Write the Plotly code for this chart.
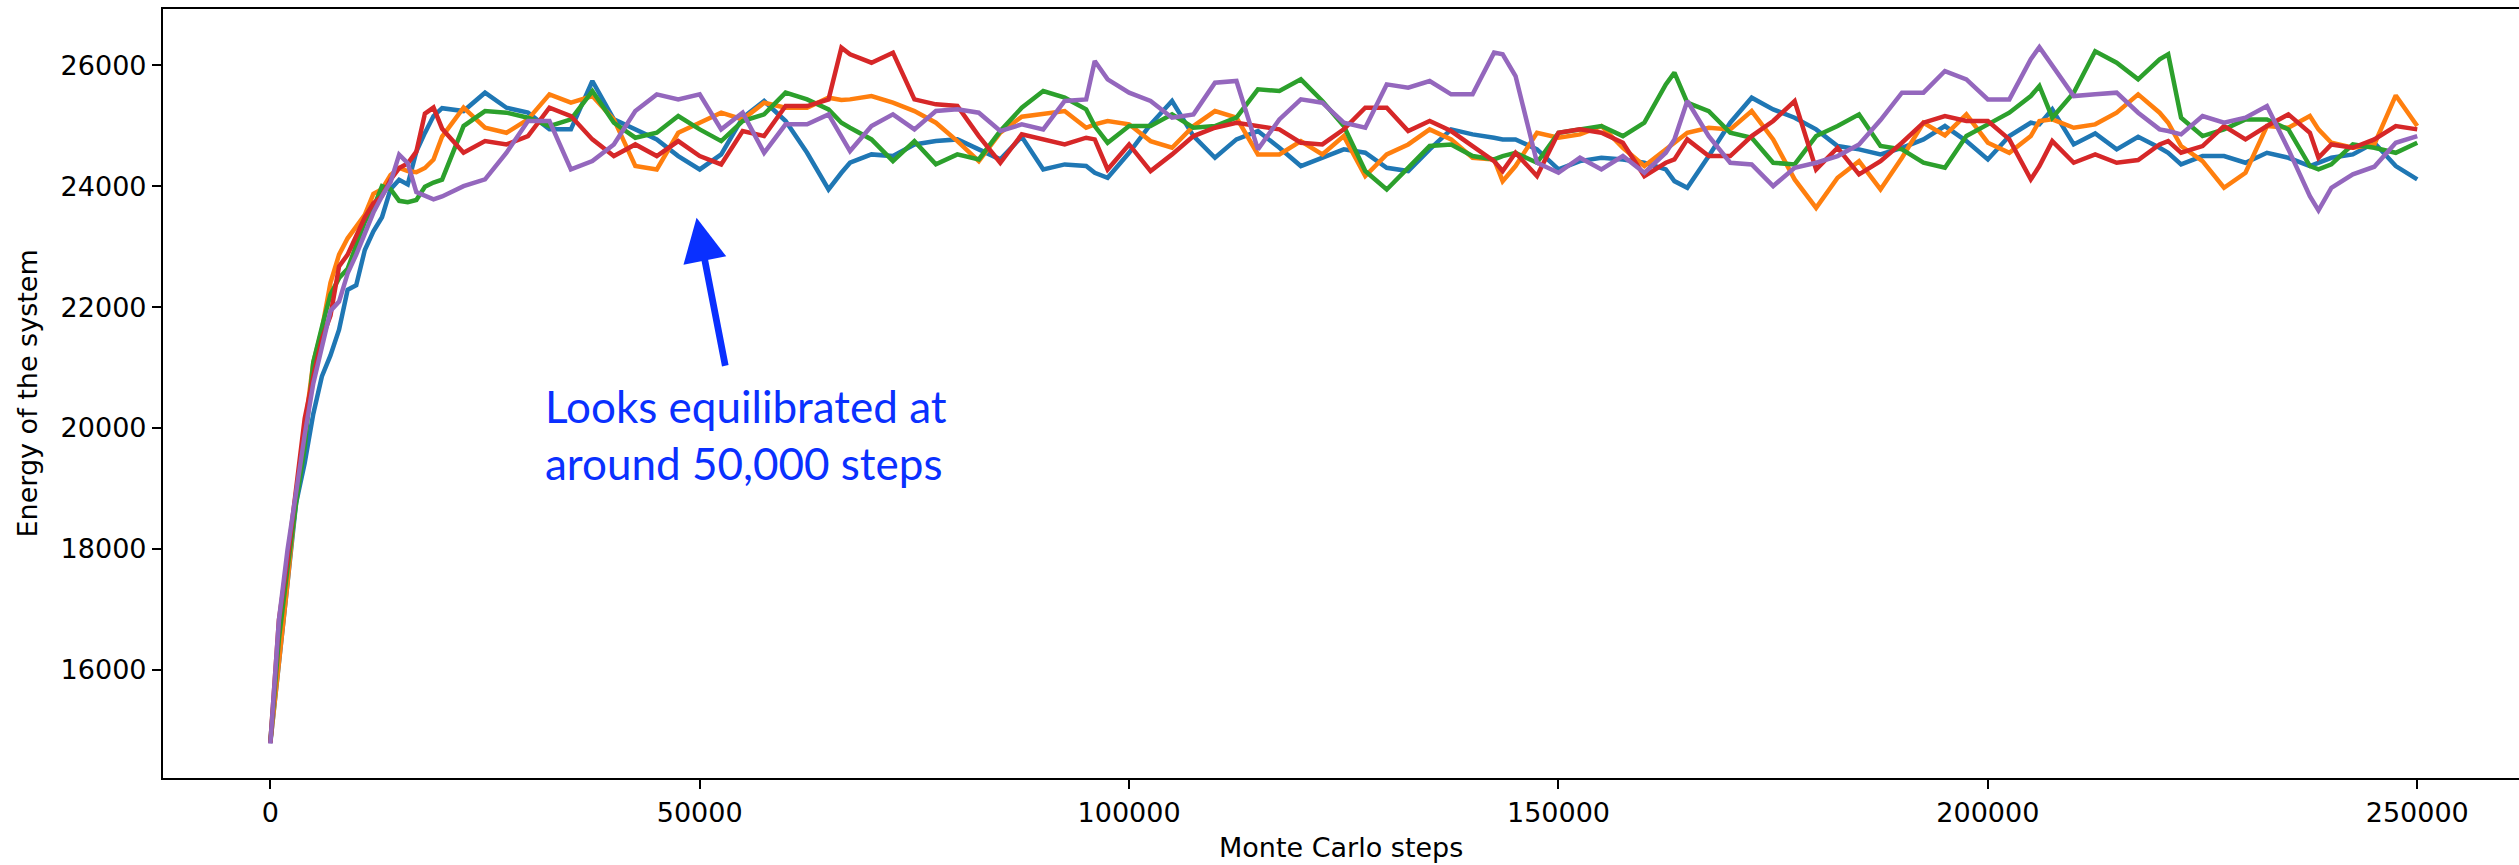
import plotly.graph_objects as go

steps = [0, 1000, 2000, 3000, 4000, 5000, 6000, 7000, 8000, 9000, 10000, 11000, 12000, 13000, 14000,
         15000, 16000, 17000, 18000, 19000, 20000,
         22500, 25000, 27500, 30000, 32500, 35000, 37500, 40000, 42500,
         45000, 47500, 50000, 52500, 55000, 57500, 60000, 62500, 65000, 66500, 67500, 70000, 72500, 75000,
         77500, 80000, 82500, 85000,
         87500, 90000, 92500, 95000, 96000, 97500, 100000, 102500, 105000, 107500, 110000, 112500, 115000,
         117500, 120000, 122500, 125000, 127500,
         130000, 132500, 135000, 137500, 140000, 142500, 143500, 145000, 147500, 150000, 152500, 155000,
         157500, 160000, 162500, 163500, 165000, 167500,
         170000, 172500, 175000, 177500, 180000, 182500, 185000, 187500, 190000, 192500, 195000, 197500,
         200000, 202500, 205000, 206000, 207500, 210000,
         212500, 215000, 217500, 220000, 221000, 222500, 225000, 227500, 230000, 232500, 235000, 237500,
         238500, 240000, 242500, 245000, 247500, 250000]

energy_blue = [14790, 16127, 17521, 18760, 19420, 20232, 20852, 21200, 21627, 22285, 22362, 22943, 23253, 23486, 23950,
               24105, 24028, 24570, 24880, 25160, 25290,
               25242, 25546, 25297, 25215, 24939, 24939, 25739, 25104, 24939,
               24773, 24497, 24276, 24525, 25132, 25408, 25077, 24552, 23945, 24221, 24387, 24525, 24497, 24690,
               24745, 24773, 24608, 24442,
               24817, 24276, 24359, 24332, 24221, 24138, 24552, 25022, 25408, 24828, 24469, 24773, 24911,
               24635, 24332, 24469, 24608, 24552,
               24304, 24249, 24608, 24939, 24856, 24801, 24773, 24773, 24608, 24276, 24414, 24469,
               24442, 24387, 24276, 24083, 23973, 24497,
               25049, 25463, 25270, 25132, 24939, 24663, 24608, 24525, 24635, 24773, 24994, 24745,
               24442, 24828, 25049, 25022, 25270, 24690,
               24872, 24608, 24817, 24635, 24552, 24359, 24497, 24497, 24387, 24552, 24469, 24332,
               24387, 24469, 24525, 24718, 24332, 24111]

energy_orange = [14800, 16049, 17444, 18877, 20000, 21084, 21626, 22401, 22866, 23137, 23331, 23526, 23873, 23950, 24183,
                 24300, 24250, 24230, 24300, 24440, 24820,
                 25297, 24966, 24883, 25104, 25518, 25380, 25490, 25104, 24332,
                 24276, 24883, 25049, 25215, 25104, 25380, 25297, 25297, 25463, 25424, 25435, 25490, 25380, 25242,
                 25049, 24745, 24414, 24883,
                 25148, 25187, 25242, 24966, 25022, 25077, 25022, 24745, 24635, 24994, 25242, 25132, 24525,
                 24525, 24745, 24525, 24828, 24166,
                 24525, 24690, 24939, 24773, 24469, 24442, 24083, 24332, 24883, 24801, 24856, 24994,
                 24635, 24332, 24608, 24718, 24883, 24966,
                 24939, 25242, 24773, 24111, 23640, 24138, 24414, 23945, 24469, 25049, 24840, 25187,
                 24718, 24552, 24828, 25077, 25104, 24966,
                 25022, 25215, 25518, 25215, 25049, 24663, 24414, 23973, 24221, 24994, 24966, 25159,
                 24939, 24718, 24635, 24690, 25500, 24994]

energy_green = [14810, 16514, 17676, 18760, 19690, 21084, 21665, 22207, 22479, 22634, 23021, 23408, 23640, 24000, 23950,
                23757, 23735, 23770, 23990, 24060, 24108,
                24994, 25242, 25215, 25132, 24994, 25104, 25573, 25049, 24801,
                24883, 25159, 24939, 24745, 25077, 25187, 25546, 25435, 25270, 25049, 24966, 24773, 24414, 24745,
                24360, 24525, 24442, 24911,
                25297, 25573, 25463, 25270, 24994, 24718, 24994, 24994, 25187, 24966, 24994, 25132, 25601,
                25573, 25766, 25408, 24994, 24249,
                23945, 24304, 24663, 24690, 24497, 24442, 24497, 24552, 24387, 24883, 24939, 24994,
                24828, 25049, 25683, 25877, 25380, 25242,
                24883, 24801, 24387, 24359, 24828, 24994, 25187, 24663, 24608, 24387, 24304, 24828,
                25022, 25215, 25490, 25656, 25132, 25546,
                26230, 26042, 25766, 26097, 26180, 25132, 24828, 24939, 25104, 25104, 24939, 24332,
                24276, 24359, 24690, 24635, 24552, 24718]

energy_red = [14790, 16824, 17831, 19070, 20155, 20852, 21472, 21859, 22672, 22866, 23176, 23486, 23718, 23834, 24105,
              24299, 24376, 24570, 25200, 25300, 24950,
              24552, 24745, 24690, 24828, 25297, 25159, 24773, 24497, 24690,
              24497, 24745, 24497, 24360, 24911, 24828, 25325, 25325, 25435, 26290, 26180, 26042, 26208, 25435,
              25353, 25325, 24828, 24387,
              24856, 24773, 24690, 24801, 24773, 24276, 24690, 24249, 24525, 24828, 24966, 25049, 24994,
              24939, 24718, 24690, 24939, 25297,
              25297, 24911, 25077, 24911, 24663, 24414, 24249, 24552, 24166, 24883, 24939, 24883,
              24718, 24166, 24387, 24442, 24773, 24497,
              24497, 24828, 25077, 25408, 24276, 24635, 24194, 24414, 24718, 25049, 25159, 25077,
              25077, 24773, 24111, 24332, 24745, 24387,
              24525, 24387, 24431, 24690, 24745, 24552, 24663, 24994, 24773, 24994, 25187, 24883,
              24470, 24690, 24635, 24773, 24994, 24939]

energy_purple = [14780, 16824, 17986, 18993, 19884, 20736, 21317, 21936, 22091, 22556, 22866, 23214, 23563, 23834, 24067,
                 24520, 24380, 23900, 23830, 23780, 23830,
                 24000, 24111, 24552, 25077, 25077, 24276, 24414, 24690, 25242,
                 25518, 25435, 25518, 24939, 25215, 24552, 25022, 25022, 25187, 24828, 24580, 24994, 25187, 24939,
                 25242, 25270, 25215, 24911,
                 25022, 24939, 25408, 25435, 26070, 25766, 25546, 25408, 25132, 25187, 25711, 25739, 24608,
                 25104, 25435, 25380, 25049, 24966,
                 25683, 25628, 25739, 25518, 25518, 26208, 26180, 25821, 24387, 24221, 24470, 24276,
                 24497, 24221, 24552, 24773, 25408, 24828,
                 24387, 24359, 24001, 24304, 24387, 24497, 24690, 25093, 25546, 25546, 25904, 25766,
                 25435, 25435, 26100, 26300, 26000, 25490,
                 25518, 25546, 25215, 24939, 24911, 24856, 25159, 25049, 25132, 25325, 24608, 23835,
                 23600, 23973, 24194, 24321, 24718, 24828]

series = [energy_blue, energy_orange, energy_green, energy_red, energy_purple]
colors = ["#1f77b4", "#ff7f0e", "#2ca02c", "#d62728", "#9467bd"]

x_tickvals = [0, 50000, 100000, 150000, 200000, 250000]
x_ticktext = ["0", "50000", "100000", "150000", "200000", "250000"]
y_tickvals = [16000, 18000, 20000, 22000, 24000, 26000]
y_ticktext = ["16000", "18000", "20000", "22000", "24000", "26000"]

note_text = "Looks equilibrated at<br>around 50,000 steps"

fig = go.Figure()
for vals, col in zip(series, colors):
    fig.add_trace(go.Scatter(x=steps, y=vals, mode="lines",
                             line=dict(color=col, width=4.5), showlegend=False, hoverinfo="skip"))

tick_font = dict(family="DejaVu Sans", size=27, color="black")

fig.update_layout(
    width=2519, height=865,
    margin=dict(l=163, r=0, t=9, b=87, pad=0),
    paper_bgcolor="white", plot_bgcolor="white",
    xaxis=dict(range=[-12500, 261850], tickvals=x_tickvals, ticktext=x_ticktext,
               showgrid=False, zeroline=False, showline=True, mirror=True,
               linecolor="black", linewidth=2.2, ticks="outside", ticklen=9, tickwidth=2.2,
               tickcolor="black", tickfont=tick_font),
    yaxis=dict(range=[14210, 26930], tickvals=y_tickvals, ticktext=y_ticktext,
               showgrid=False, zeroline=False, showline=True, mirror=False,
               linecolor="black", linewidth=2.2, ticks="outside", ticklen=9, tickwidth=2.2,
               tickcolor="black", tickfont=tick_font),
    annotations=[
        dict(text="Monte Carlo steps", xref="paper", yref="paper", x=0.5, y=0,
             xanchor="center", yanchor="middle", yshift=-69, showarrow=False,
             font=dict(family="DejaVu Sans", size=27, color="black")),
        dict(text="Energy of the system", xref="paper", yref="paper", x=0, y=0.5,
             xanchor="center", yanchor="middle", xshift=-136, textangle=-90, showarrow=False,
             font=dict(family="DejaVu Sans", size=27, color="black")),
        dict(text=note_text, xref="x", yref="y", x=31734, y=19890,
             xanchor="left", yanchor="middle", align="left", showarrow=False,
             font=dict(family="Lato", size=44, color="#0a30ff")),
        dict(text="", xref="x", yref="y", x=49633, y=23477, axref="x", ayref="y",
             ax=53010, ay=21004, showarrow=True, arrowhead=2, arrowsize=1.3,
             arrowwidth=6.7, arrowcolor="#0a30ff", standoff=0, startstandoff=0),
    ],
)

fig.write_html("out.html")
